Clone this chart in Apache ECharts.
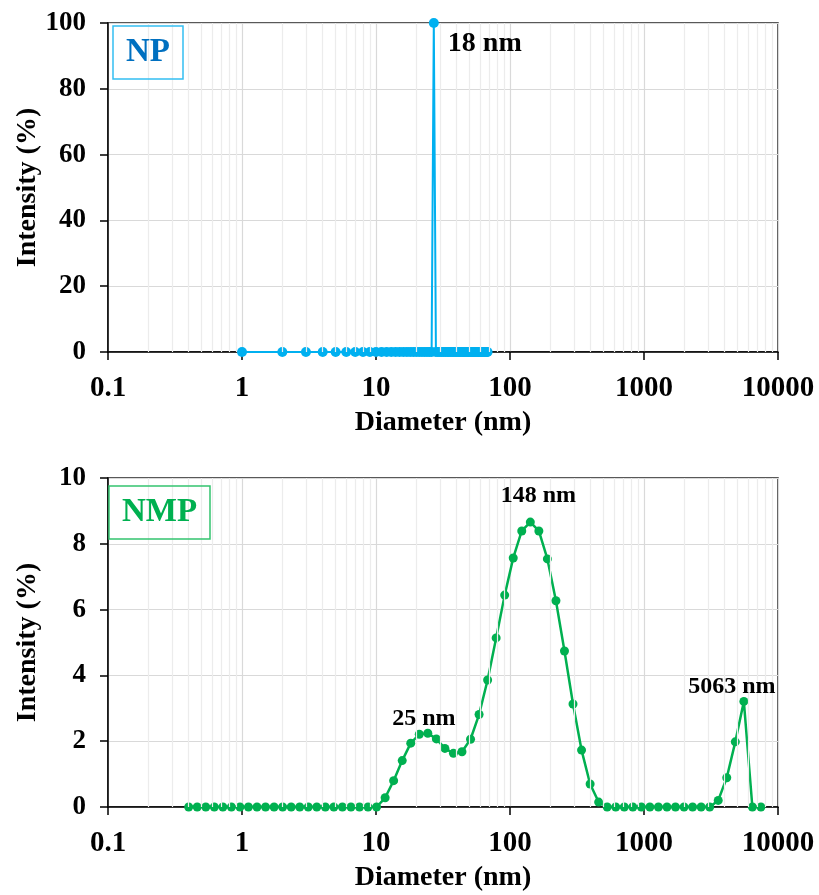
<!DOCTYPE html>
<html>
<head>
<meta charset="utf-8">
<script src="https://cdn.jsdelivr.net/npm/echarts@6/dist/echarts.min.js"></script>
<style>
  html, body { margin: 0; padding: 0; background: #fff; }
  #chart { width: 819px; height: 895px; }
</style>
</head>
<body>
<div id="chart"></div>
<script>
// Panel 1: NP size distribution (integer diameter bins, nm)
const npDiameters = [];
for (let d = 1; d <= 68; d++) npDiameters.push(d);
const npIntensity = npDiameters.map(d => (d === 27 ? 100 : 0));

// Panel 2: NMP size distribution (instrument size bins, nm)
const nmpDiameters = [
  0.4, 0.4632, 0.5365, 0.6213, 0.7195, 0.8332, 0.9649, 1.117, 1.294, 1.499,
  1.736, 2.01, 2.328, 2.696, 3.122, 3.615, 4.187, 4.849, 5.615, 6.503,
  7.531, 8.721, 10.1, 11.7, 13.54, 15.69, 18.17, 21.04, 24.36, 28.21,
  32.67, 37.84, 43.82, 50.75, 58.77, 68.06, 78.82, 91.28, 105.7, 122.4,
  141.8, 164.2, 190.1, 220.2, 255.0, 295.3, 342.0, 396.1, 458.7, 531.2,
  615.1, 712.4, 825.0, 955.4, 1106, 1281, 1484, 1718, 1990, 2305,
  2669, 3091, 3580, 4145, 4801, 5560, 6439, 7456
];
const nmpIntensity = [
  0, 0, 0, 0, 0, 0, 0, 0, 0, 0,
  0, 0, 0, 0, 0, 0, 0, 0, 0, 0,
  0, 0, 0, 0.28, 0.80, 1.41, 1.94, 2.21, 2.24, 2.07,
  1.78, 1.63, 1.68, 2.06, 2.81, 3.86, 5.14, 6.44, 7.57, 8.39,
  8.66, 8.39, 7.54, 6.27, 4.74, 3.13, 1.73, 0.70, 0.15, 0,
  0, 0, 0, 0, 0, 0, 0, 0, 0, 0,
  0, 0, 0.20, 0.89, 1.98, 3.21, 0, 0
];

// Peak annotations: index of the peak bin and the reported peak size
const npPeaks = [{ index: 26, text: '18 nm' }];
const nmpPeaks = [
  { index: 28, text: '25 nm' },
  { index: 40, text: '148 nm' },
  { index: 65, text: '5063 nm' }
];

const xTicks = [0.1, 1, 10, 100, 1000, 10000];
const npYTicks = { min: 0, max: 100, interval: 20 };
const nmpYTicks = { min: 0, max: 10, interval: 2 };

const FONT = "'Liberation Serif', 'Times New Roman', serif";
const BLUE = '#00B0F0';
const GREEN = '#00B050';

// minor vertical gridlines at 2..9 of every decade
const minorX = [];
for (let i = 0; i < xTicks.length - 1; i++) {
  for (let m = 2; m <= 9; m++) minorX.push(+(xTicks[i] * m).toPrecision(3));
}

function xAxisFor(gridIndex) {
  return {
    type: 'log', logBase: 10, gridIndex,
    min: xTicks[0], max: xTicks[xTicks.length - 1],
    name: 'Diameter (nm)', nameLocation: 'middle', nameGap: 57,
    nameMoveOverlap: false,
    nameTextStyle: { fontFamily: FONT, fontWeight: 'bold', fontSize: 28, color: '#000' },
    axisLine: { show: true, onZero: false, lineStyle: { color: '#000', width: 1.5 } },
    axisTick: { show: true, inside: false, length: 8, lineStyle: { color: '#000', width: 1.5 } },
    axisLabel: {
      margin: 22, fontFamily: FONT, fontWeight: 'bold', fontSize: 29, color: '#000',
      formatter: v => String(+v.toPrecision(6))
    },
    splitLine: { show: true, lineStyle: { color: '#d9d9d9', width: 1.2 } }
  };
}

function yAxisFor(gridIndex, t) {
  return {
    type: 'value', gridIndex, min: t.min, max: t.max, interval: t.interval,
    name: 'Intensity (%)', nameLocation: 'middle', nameGap: 66,
    nameMoveOverlap: false,
    nameTextStyle: { fontFamily: FONT, fontWeight: 'bold', fontSize: 28, color: '#000' },
    axisLine: { show: true, lineStyle: { color: '#000', width: 1.5 } },
    axisTick: { show: true, inside: false, length: 8, lineStyle: { color: '#000', width: 1.5 } },
    axisLabel: { margin: 22, fontFamily: FONT, fontWeight: 'bold', fontSize: 27, color: '#000' },
    splitLine: { show: true, lineStyle: { color: '#d9d9d9', width: 1.2 } }
  };
}

function minorGridSeries(idx) {
  return {
    type: 'line', xAxisIndex: idx, yAxisIndex: idx, data: [], z: 1, silent: true,
    markLine: {
      silent: true, symbol: ['none', 'none'], label: { show: false }, animation: false,
      lineStyle: { color: '#ececec', width: 1.2, type: 'solid' },
      data: minorX.map(v => ({ xAxis: v }))
    }
  };
}

function peakMarks(xs, ys, peaks, offset, size) {
  return {
    symbol: 'circle', symbolSize: 0, animation: false,
    data: peaks.map((p, k) => ({
      coord: [xs[p.index], ys[p.index]],
      label: {
        show: true, formatter: p.text, offset: offset[k],
        fontFamily: FONT, fontWeight: 'bold', fontSize: size, color: '#000'
      }
    }))
  };
}

const chart = echarts.init(document.getElementById('chart'), null, { renderer: 'canvas' });

chart.setOption({
  animation: false,
  backgroundColor: '#fff',
  title: [
    {
      text: 'NP', left: 113, top: 26, padding: [10, 13, 10, 13],
      borderColor: '#33bff2', borderWidth: 1.5,
      textStyle: { fontFamily: FONT, fontWeight: 'bold', fontSize: 33, color: '#0070C0' }
    },
    {
      text: 'NMP', left: 109, top: 486, padding: [10, 13, 10, 13],
      borderColor: '#33c46f', borderWidth: 1.5,
      textStyle: { fontFamily: FONT, fontWeight: 'bold', fontSize: 33, color: GREEN }
    }
  ],
  grid: [
    { left: 108, top: 23, width: 670, height: 329, show: true, borderColor: '#222', borderWidth: 1.5, backgroundColor: 'transparent' },
    { left: 108, top: 478, width: 670, height: 329, show: true, borderColor: '#222', borderWidth: 1.5, backgroundColor: 'transparent' }
  ],
  xAxis: [xAxisFor(0), xAxisFor(1)],
  yAxis: [yAxisFor(0, npYTicks), yAxisFor(1, nmpYTicks)],
  series: [
    minorGridSeries(0),
    minorGridSeries(1),
    {
      name: 'NP', type: 'line', xAxisIndex: 0, yAxisIndex: 0, z: 3,
      data: npDiameters.map((d, i) => [d, npIntensity[i]]),
      symbol: 'circle', symbolSize: 10, showAllSymbol: true,
      lineStyle: { color: BLUE, width: 2 },
      itemStyle: { color: BLUE },
      markPoint: peakMarks(npDiameters, npIntensity, npPeaks, [[51, 21]], 28)
    },
    {
      name: 'NMP', type: 'line', xAxisIndex: 1, yAxisIndex: 1, z: 3,
      data: nmpDiameters.map((d, i) => [d, nmpIntensity[i]]),
      symbol: 'circle', symbolSize: 9, showAllSymbol: true,
      lineStyle: { color: GREEN, width: 2.5 },
      itemStyle: { color: GREEN },
      markPoint: peakMarks(nmpDiameters, nmpIntensity, nmpPeaks, [[-4, -15], [8, -26], [-12, -15]], 24)
    }
  ]
});
</script>
</body>
</html>
